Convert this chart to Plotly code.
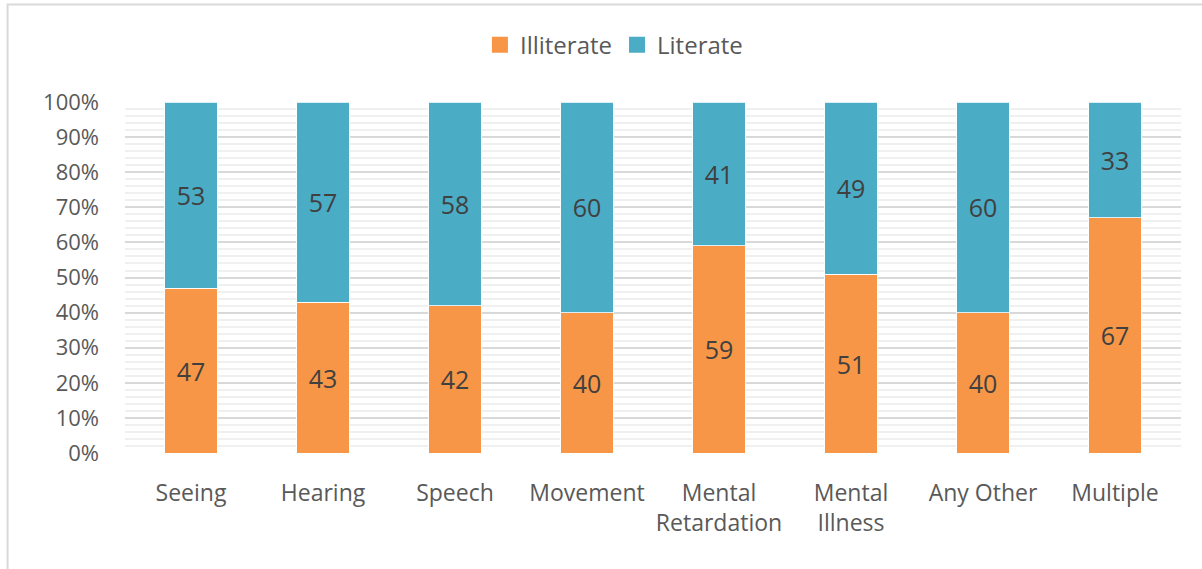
import plotly.graph_objects as go

categories = ["Seeing", "Hearing", "Speech", "Movement", "Mental Retardation",
              "Mental Illness", "Any Other", "Multiple"]
tick_labels = ["Seeing", "Hearing", "Speech", "Movement", "Mental<br>Retardation",
               "Mental<br>Illness", "Any Other", "Multiple"]
illiterate = [47, 43, 42, 40, 59, 51, 40, 67]
literate = [53, 57, 58, 60, 41, 49, 60, 33]

ORANGE = "#F79646"
BLUE = "#4BACC6"
TEXT = "#595959"
FONT = "Open Sans"

fig = go.Figure()
for name, vals, color in [("Illiterate", illiterate, ORANGE), ("Literate", literate, BLUE)]:
    fig.add_trace(go.Bar(
        name=name,
        x=categories,
        y=[v / 100 for v in vals],
        text=[str(v) for v in vals],
        textposition="inside",
        insidetextanchor="middle",
        textangle=0,
        textfont=dict(family=FONT, size=25, color="#404040"),
        marker=dict(color=color, line=dict(color="rgba(255,255,255,0.8)", width=1)),
        width=0.4,
        showlegend=False,
        hoverinfo="skip",
    ))
    # legend entry with a larger square swatch
    fig.add_trace(go.Scatter(
        name=name, x=[None], y=[None], mode="markers",
        marker=dict(symbol="square", size=16, color=color),
        showlegend=True, hoverinfo="skip",
    ))

fig.update_layout(
    width=1202, height=569,
    barmode="stack",
    paper_bgcolor="white", plot_bgcolor="white",
    margin=dict(l=125, r=21, t=102, b=116),
    font=dict(family=FONT, size=22, color=TEXT),
    showlegend=True,
    legend=dict(orientation="h", x=0.463, xanchor="center", y=1.162, yanchor="middle",
                font=dict(family=FONT, size=24, color=TEXT), traceorder="normal",
                itemwidth=30),
)
fig.update_xaxes(
    tickvals=categories, ticktext=tick_labels,
    showline=False, showgrid=False, zeroline=False, ticks="",
    ticklabelstandoff=24,
    tickfont=dict(family=FONT, size=23, color=TEXT),
)
fig.update_yaxes(
    range=[0, 1.0001], dtick=0.1, tickformat=".0%",
    showgrid=True, gridcolor="#d9d9d9", gridwidth=1.5,
    zeroline=False, showline=False, ticks="",
    ticklabelstandoff=25,
    minor=dict(dtick=0.02, showgrid=True, gridcolor="#f0f0f0", gridwidth=1.5),
    tickfont=dict(family=FONT, size=22, color=TEXT),
)
# chart-area frame
fig.add_shape(type="rect", xref="paper", yref="paper",
              x0=-0.1112, x1=1.05, y0=-0.5, y1=1.278,
              line=dict(color="#d9d9d9", width=2), fillcolor="rgba(0,0,0,0)", layer="below")

fig.write_html("out.html")
